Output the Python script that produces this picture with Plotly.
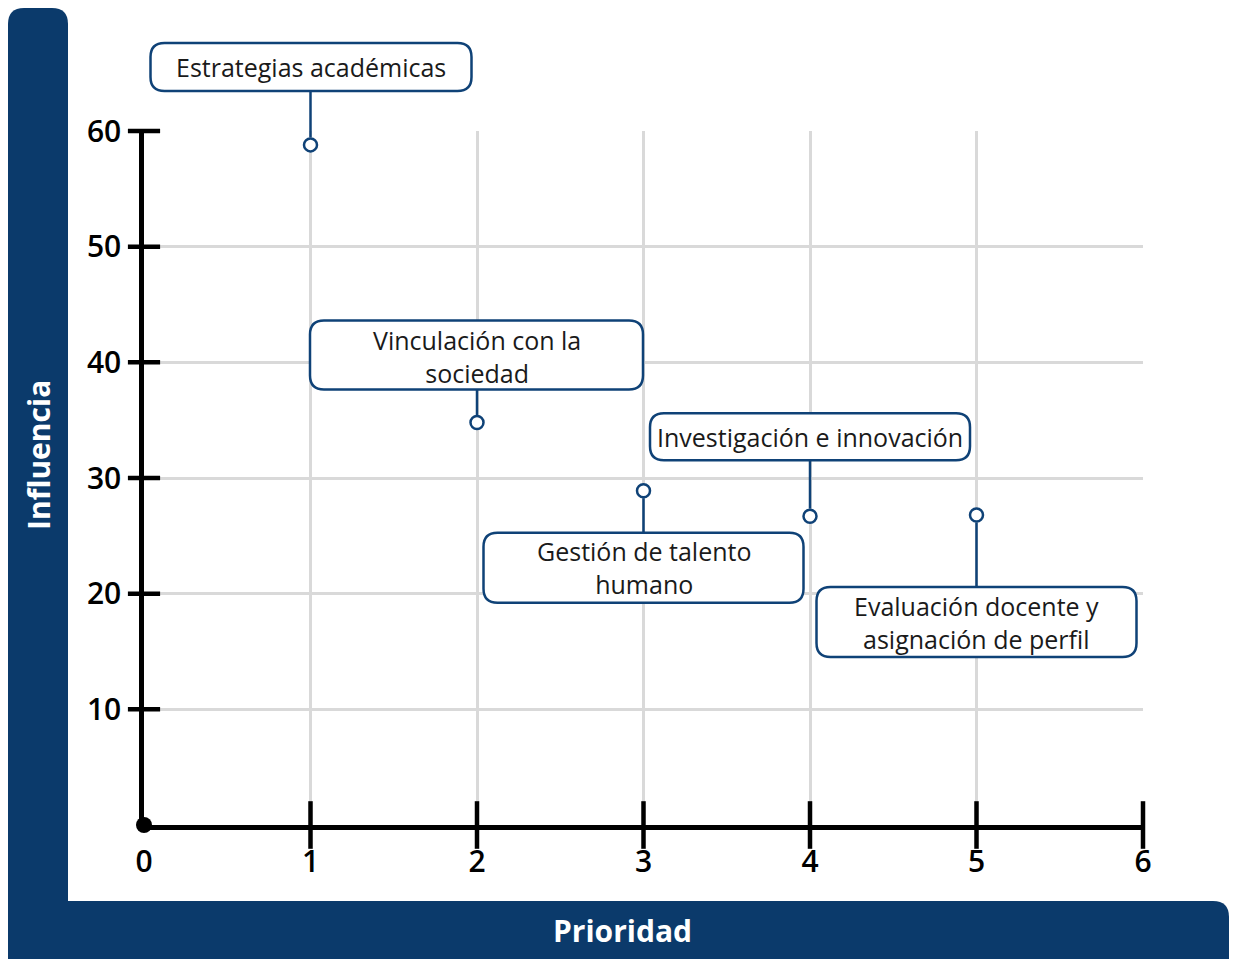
import plotly.graph_objects as go

# ---- data ----
categorias = [
    "Estrategias académicas",
    "Vinculación con la<br>sociedad",
    "Gestión de talento<br>humano",
    "Investigación e innovación",
    "Evaluación docente y<br>asignación de perfil",
]
prioridad = [1, 2, 3, 4, 5]
influencia = [58.8, 34.8, 28.9, 26.7, 26.8]

x_ticks = [0, 1, 2, 3, 4, 5, 6]
y_ticks = [10, 20, 30, 40, 50, 60]
X_MAX = 6
Y_MAX = 60

# label box placement in pixels relative to each point (x0, x1, bottom, top), y up
box_px = [
    (-160, 161, 54, 102),
    (-167, 166, 33, 102),
    (-160, 160, -112, -42),
    (-160, 160, 56, 103),
    (-160, 160, -142, -72),
]
text_shift = [78, 66, -77, 79, -107]

DARK = "#0B3A6B"
BOX = "#0F4277"
GRID = "#D9D9D9"
FONT = "Open Sans"

W, H = 1229, 951
L, R, T, B = 136, 94, 123, 134
PH = H - T - B


def rrect(x0, x1, y0, y1, r):
    return (f"M {x0+r},{y0} L {x1-r},{y0} Q {x1},{y0} {x1},{y0+r} "
            f"L {x1},{y1-r} Q {x1},{y1} {x1-r},{y1} L {x0+r},{y1} "
            f"Q {x0},{y1} {x0},{y1-r} L {x0},{y0+r} Q {x0},{y0} {x0+r},{y0} Z")


fig = go.Figure()

# tick marks crossing the axes
fig.add_trace(go.Scatter(
    x=x_ticks[1:], y=[0] * (len(x_ticks) - 1), mode="markers",
    marker=dict(symbol="line-ns", size=34, line=dict(color="black", width=4.5)),
    cliponaxis=False, hoverinfo="skip", showlegend=False))
fig.add_trace(go.Scatter(
    x=[0] * len(y_ticks), y=y_ticks, mode="markers",
    marker=dict(symbol="line-ew", size=23, line=dict(color="black", width=4.5)),
    cliponaxis=False, hoverinfo="skip", showlegend=False))
# origin dot
fig.add_trace(go.Scatter(
    x=[0], y=[0], mode="markers",
    marker=dict(symbol="circle", size=16, color="black"),
    cliponaxis=False, hoverinfo="skip", showlegend=False))

# data points
fig.add_trace(go.Scatter(
    x=prioridad, y=influencia, mode="markers",
    marker=dict(symbol="circle", size=13, color="white", line=dict(color=BOX, width=2.5)),
    cliponaxis=False, showlegend=False, text=categorias, hoverinfo="x+y"))

shapes = []
annotations = []
for i in range(len(prioridad)):
    x0, x1, yb, yt = box_px[i]
    shapes.append(dict(
        type="path", xref="x", yref="paper", xsizemode="pixel", ysizemode="pixel",
        xanchor=prioridad[i], yanchor=influencia[i] / Y_MAX,
        path=rrect(x0, x1, yb, yt, 14), fillcolor="white",
        line=dict(color=BOX, width=2.5), layer="above"))
    edge = yb if yb > 0 else yt
    start = 7.5 if yb > 0 else -7.5
    shapes.append(dict(
        type="line", xref="x", yref="paper", xsizemode="pixel", ysizemode="pixel",
        xanchor=prioridad[i], yanchor=influencia[i] / Y_MAX,
        x0=0, x1=0, y0=start, y1=edge, line=dict(color=BOX, width=2.5), layer="above"))
    annotations.append(dict(
        x=prioridad[i], y=influencia[i], xref="x", yref="y", text=categorias[i],
        showarrow=False, yshift=text_shift[i], xanchor="center", yanchor="middle",
        font=dict(family=FONT, size=25, color="#1A1A1A")))

# blue title bars
shapes.append(dict(
    type="path", xref="paper", yref="paper", xsizemode="pixel", ysizemode="pixel",
    xanchor=0, yanchor=0, path=rrect(-136, -76, -140, 817, 16),
    fillcolor=DARK, line=dict(width=0), layer="below"))
shapes.append(dict(
    type="path", xref="paper", yref="paper", xsizemode="pixel", ysizemode="pixel",
    xanchor=0, yanchor=0,
    path=("M -136,-140 L -136,-76 L 1069,-76 Q 1085,-76 1085,-92 L 1085,-140 Z"),
    fillcolor=DARK, line=dict(width=0), layer="below"))

annotations.append(dict(
    x=0, y=(817 - 447) / PH, xref="paper", yref="paper", xshift=-106,
    xanchor="center", yanchor="middle",
    text="<b>Influencia</b>", textangle=-90, showarrow=False,
    font=dict(family=FONT, size=30, color="white")))
annotations.append(dict(
    x=0.5, y=0, xref="paper", yref="paper", xshift=-21, yshift=-105,
    xanchor="center", yanchor="middle",
    text="<b>Prioridad</b>", showarrow=False,
    font=dict(family=FONT, size=30, color="white")))

fig.update_layout(
    width=W, height=H, margin=dict(l=L, r=R, t=T, b=B),
    paper_bgcolor="white", plot_bgcolor="white",
    shapes=shapes, annotations=annotations, showlegend=False,
    xaxis=dict(range=[0, X_MAX], tickvals=x_ticks, showgrid=True, gridcolor=GRID,
               gridwidth=2.5, zeroline=False, showline=True, linecolor="black",
               linewidth=4.5, ticks="", ticklabelstandoff=6, layer="below traces",
               tickfont=dict(family=FONT, size=30, color="black", weight=600),
               fixedrange=True),
    yaxis=dict(range=[0, Y_MAX], tickvals=y_ticks, showgrid=True, gridcolor=GRID,
               gridwidth=2.5, zeroline=False, showline=True, linecolor="black",
               linewidth=4.5, ticks="", ticklabelstandoff=12, layer="below traces",
               tickfont=dict(family=FONT, size=30, color="black", weight=600),
               fixedrange=True),
)

fig.write_html(
    "out.html",
    post_script="document.documentElement.style.overflow='hidden';"
                "document.body.style.overflow='hidden';",
)
